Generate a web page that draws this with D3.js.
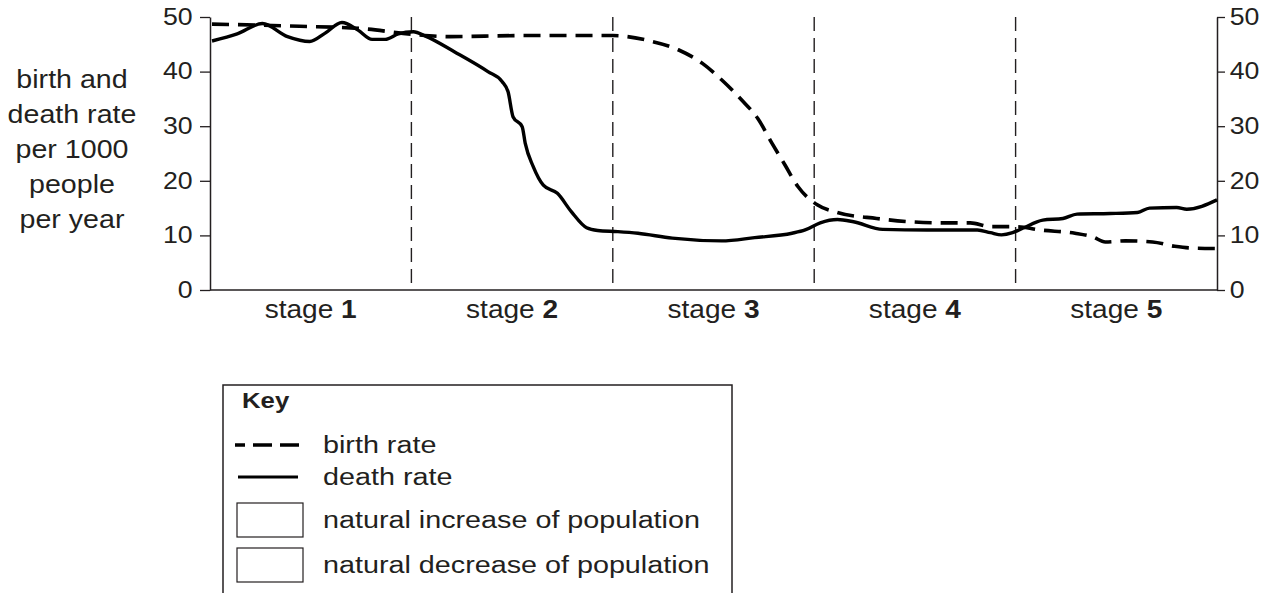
<!DOCTYPE html>
<html>
<head>
<meta charset="utf-8">
<script src="https://cdn.jsdelivr.net/npm/d3@7"></script>
<style>
  html, body { margin: 0; padding: 0; background: #fff; }
  svg text { font-family: "Liberation Sans", Arial, Helvetica, sans-serif; fill: #231f20; }
</style>
</head>
<body>
<div id="viz"></div>
<script>
// data (x: 0-100, each stage 20 wide)
const stages = ["1", "2", "3", "4", "5"];
const stageBounds = [20, 40, 60, 80];
const yTicks = [0, 10, 20, 30, 40, 50];
const yTitle = ["birth and", "death rate", "per 1000", "people", "per year"];

const birthX = [0.2, 8.9, 14.9, 20.2, 23.8, 30.8, 40.0, 43.5, 46.5, 48.9, 50.8, 52.8, 54.4, 55.8, 57.1, 58.4,
  60.3, 62.3, 66.2, 69.5, 72.8, 75.5, 77.5, 80.1, 82.4, 85.9, 87.7, 88.9, 90.9, 93.6, 95.8, 97.3, 99.8];
const birthRate = [48.7, 48.3, 47.9, 46.8, 46.4, 46.6, 46.6, 45.7, 44.0, 41.5, 38.5, 34.8, 31.4, 26.9, 22.9, 18.9,
  15.6, 14.2, 13.1, 12.5, 12.3, 12.3, 11.6, 11.6, 11.0, 10.4, 9.7, 8.8, 9.0, 8.8, 8.0, 7.7, 7.6];

const deathX = [0.2, 2.7, 5.2, 7.7, 9.9, 11.4, 13.1, 14.7, 16.1, 17.4, 18.7, 20.2, 21.4, 24.3, 27.6, 29.0, 29.6,
  30.1, 31.0, 31.3, 32.1, 33.1, 34.5, 35.9, 37.4, 38.5, 40.5, 42.5, 45.9, 50.8, 54.1, 57.8, 59.1, 60.6, 62.3,
  63.9, 66.8, 71.2, 76.2, 77.5, 78.6, 79.7, 80.7, 82.7, 84.7, 86.1, 89.4, 92.1, 93.3, 96.0, 97.0, 100];
const deathRate = [45.6, 46.9, 48.8, 46.4, 45.5, 47.0, 49.0, 47.6, 45.9, 45.9, 46.9, 47.3, 46.5, 43.6, 40.0, 38.2, 36.3,
  31.7, 29.9, 26.9, 22.6, 19.2, 17.7, 14.3, 11.4, 10.9, 10.7, 10.4, 9.5, 9.0, 9.6, 10.4, 11.0, 12.3, 12.9,
  12.5, 11.1, 11.0, 11.0, 10.5, 10.1, 10.5, 11.3, 12.8, 13.1, 13.9, 14.0, 14.2, 15.0, 15.1, 14.8, 16.5];

const legendItems = ["birth rate", "death rate", "natural increase of population", "natural decrease of population"];

const width = 1272, height = 593;
const svg = d3.select("#viz").append("svg")
  .attr("width", width)
  .attr("height", height);

const x = d3.scaleLinear().domain([0, 100]).range([210, 1217]);
const y = d3.scaleLinear().domain([0, 50]).range([290, 17]);

// text helper, font is squeezed a bit so stretch it sideways
const txt = (x0, y0, str, size, sx, anchor) => svg.append("text")
  .attr("transform", `translate(${x0},${y0}) scale(${sx},1)`)
  .attr("text-anchor", anchor || "start")
  .attr("font-size", size + "px")
  .text(str);

// left axis
const left = svg.append("g")
  .attr("transform", `translate(${x(0)},0)`)
  .call(d3.axisLeft(y).tickValues(yTicks).tickSize(10).tickPadding(5).tickSizeOuter(0));
// right axis
const right = svg.append("g")
  .attr("transform", `translate(${x(100)},0)`)
  .call(d3.axisRight(y).tickValues(yTicks).tickSize(8).tickPadding(3).tickSizeOuter(0));

[left, right].forEach(g => {
  g.select(".domain").attr("stroke", "#231f20").attr("stroke-width", 1.5);
  g.selectAll(".tick line").attr("stroke", "#231f20").attr("stroke-width", 1.3);
  g.selectAll(".tick text")
    .attr("font-size", "23px")
    .attr("font-family", "Liberation Sans, Arial, sans-serif")
    .attr("fill", "#231f20")
    .attr("transform", "scale(1.16,1)");
});

// x axis baseline
svg.append("line")
  .attr("x1", x(0)).attr("x2", x(100))
  .attr("y1", y(0)).attr("y2", y(0))
  .attr("stroke", "#231f20").attr("stroke-width", 1.5);

// stage dividers
svg.selectAll(".divider").data(stageBounds).enter().append("line")
  .attr("class", "divider")
  .attr("x1", d => x(d)).attr("x2", d => x(d))
  .attr("y1", y(50)).attr("y2", y(0))
  .attr("stroke", "#231f20")
  .attr("stroke-width", 1.4)
  .attr("stroke-dasharray", "14,7");

// stage labels
stages.forEach((s, i) => {
  const t = txt(x(i * 20 + 10), 318, "stage ", 26, 1.08, "middle");
  t.append("tspan").attr("font-weight", "bold").text(s);
});

// y title
yTitle.forEach((s, i) => txt(72, 88 + i * 35, s, 26, 1.1, "middle"));

// lines
const line = d3.line()
  .x(d => x(d[0]))
  .y(d => y(d[1]))
  .curve(d3.curveMonotoneX);

svg.append("path")
  .datum(birthX.map((v, i) => [v, birthRate[i]]))
  .attr("d", line)
  .attr("fill", "none")
  .attr("stroke", "#000")
  .attr("stroke-width", 3.6)
  .attr("stroke-dasharray", "17,9");

svg.append("path")
  .datum(deathX.map((v, i) => [v, deathRate[i]]))
  .attr("d", line)
  .attr("fill", "none")
  .attr("stroke", "#000")
  .attr("stroke-width", 3.4);

// key
svg.append("rect")
  .attr("x", 223).attr("y", 385)
  .attr("width", 509).attr("height", 240)
  .attr("fill", "none")
  .attr("stroke", "#231f20")
  .attr("stroke-width", 1.5);

txt(242, 408, "Key", 23, 1.12).attr("font-weight", "bold");

svg.append("line")
  .attr("x1", 235).attr("x2", 300).attr("y1", 445).attr("y2", 445)
  .attr("stroke", "#000").attr("stroke-width", 3.4)
  .attr("stroke-dasharray", "19,8").attr("stroke-dashoffset", 9);
svg.append("line")
  .attr("x1", 238).attr("x2", 298).attr("y1", 477).attr("y2", 477)
  .attr("stroke", "#000").attr("stroke-width", 3.2);
[503, 548].forEach(top => svg.append("rect")
  .attr("x", 237).attr("y", top)
  .attr("width", 66).attr("height", 34)
  .attr("fill", "#fff")
  .attr("stroke", "#231f20")
  .attr("stroke-width", 1.2));

const legendBase = [453, 485, 528, 573];
legendItems.forEach((s, i) => txt(323, legendBase[i], s, 23, 1.25));
</script>
</body>
</html>
